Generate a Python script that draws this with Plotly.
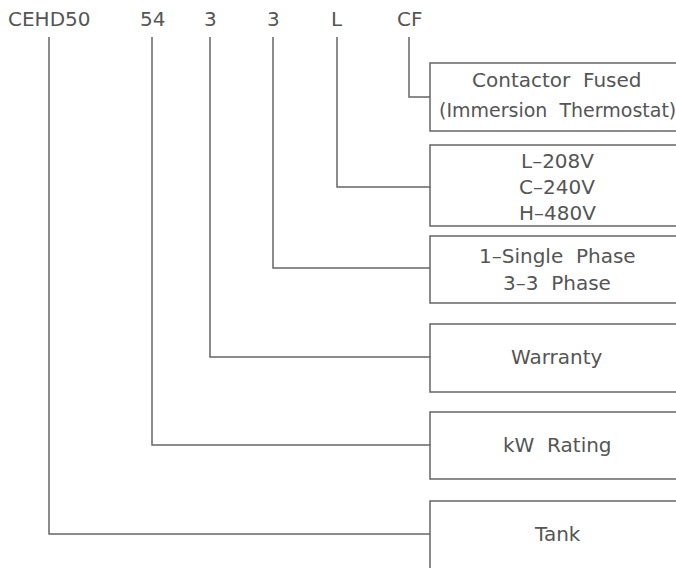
import plotly.graph_objects as go

# ---- data ----
codes = ["CEHD50", "54", "3", "3", "L", "CF"]
descriptions = [
    ["Tank"],
    ["kW  Rating"],
    ["Warranty"],
    ["1–Single  Phase", "3–3  Phase"],
    ["L–208V", "C–240V", "H–480V"],
    ["Contactor  Fused", "(Immersion  Thermostat)"],
]

# ---- layout (pixel-like diagram coordinates) ----
W, H = 676, 568
code_x = [49, 152, 210, 273, 337, 409]
code_label_y = 19
line_top = 37
connector_y = [534, 445, 357, 268, 187, 97]
box_x0, box_x1 = 430, 684
box_top = [501, 412, 324, 236, 145, 63]
box_bottom = [572, 479, 392, 303, 226, 131]
text_y = [[534], [445], [357], [256, 283], [161, 187, 213], [80, 110]]
text_size = [[20], [20], [20], [20, 20], [20, 20, 20], [20, 19]]
text_cx = 557

LINE = "#666666"
TEXT = "#555555"
FONT = "DejaVu Sans, Liberation Sans, sans-serif"

fig = go.Figure()

for cx, cy in zip(code_x, connector_y):
    fig.add_trace(go.Scatter(
        x=[cx, cx, box_x0], y=[line_top, cy, cy],
        mode="lines", line=dict(color=LINE, width=1.5),
        hoverinfo="skip", showlegend=False,
    ))

for t, b in zip(box_top, box_bottom):
    fig.add_shape(type="rect", xref="x", yref="y",
                  x0=box_x0, x1=box_x1, y0=t, y1=b,
                  line=dict(color=LINE, width=1.5), fillcolor="rgba(0,0,0,0)")

annotations = []
for label, cx in zip(codes, code_x):
    annotations.append(dict(x=cx, y=code_label_y, xref="x", yref="y", text=label,
                            showarrow=False, xanchor="center", yanchor="middle",
                            font=dict(family=FONT, size=20, color=TEXT)))
for lines, ys, sizes in zip(descriptions, text_y, text_size):
    for txt, ty, sz in zip(lines, ys, sizes):
        annotations.append(dict(x=text_cx, y=ty, xref="x", yref="y", text=txt,
                                showarrow=False, xanchor="center", yanchor="middle",
                                font=dict(family=FONT, size=sz, color=TEXT)))

fig.update_layout(
    width=W, height=H,
    margin=dict(l=0, r=0, t=0, b=0),
    paper_bgcolor="white", plot_bgcolor="white",
    xaxis=dict(range=[0, W], visible=False, fixedrange=True),
    yaxis=dict(range=[H, 0], visible=False, fixedrange=True),
    annotations=annotations,
)

fig.write_html("out.html", config={"displayModeBar": False},
               post_script="document.body.style.margin='0px';document.body.style.overflow='hidden';")
